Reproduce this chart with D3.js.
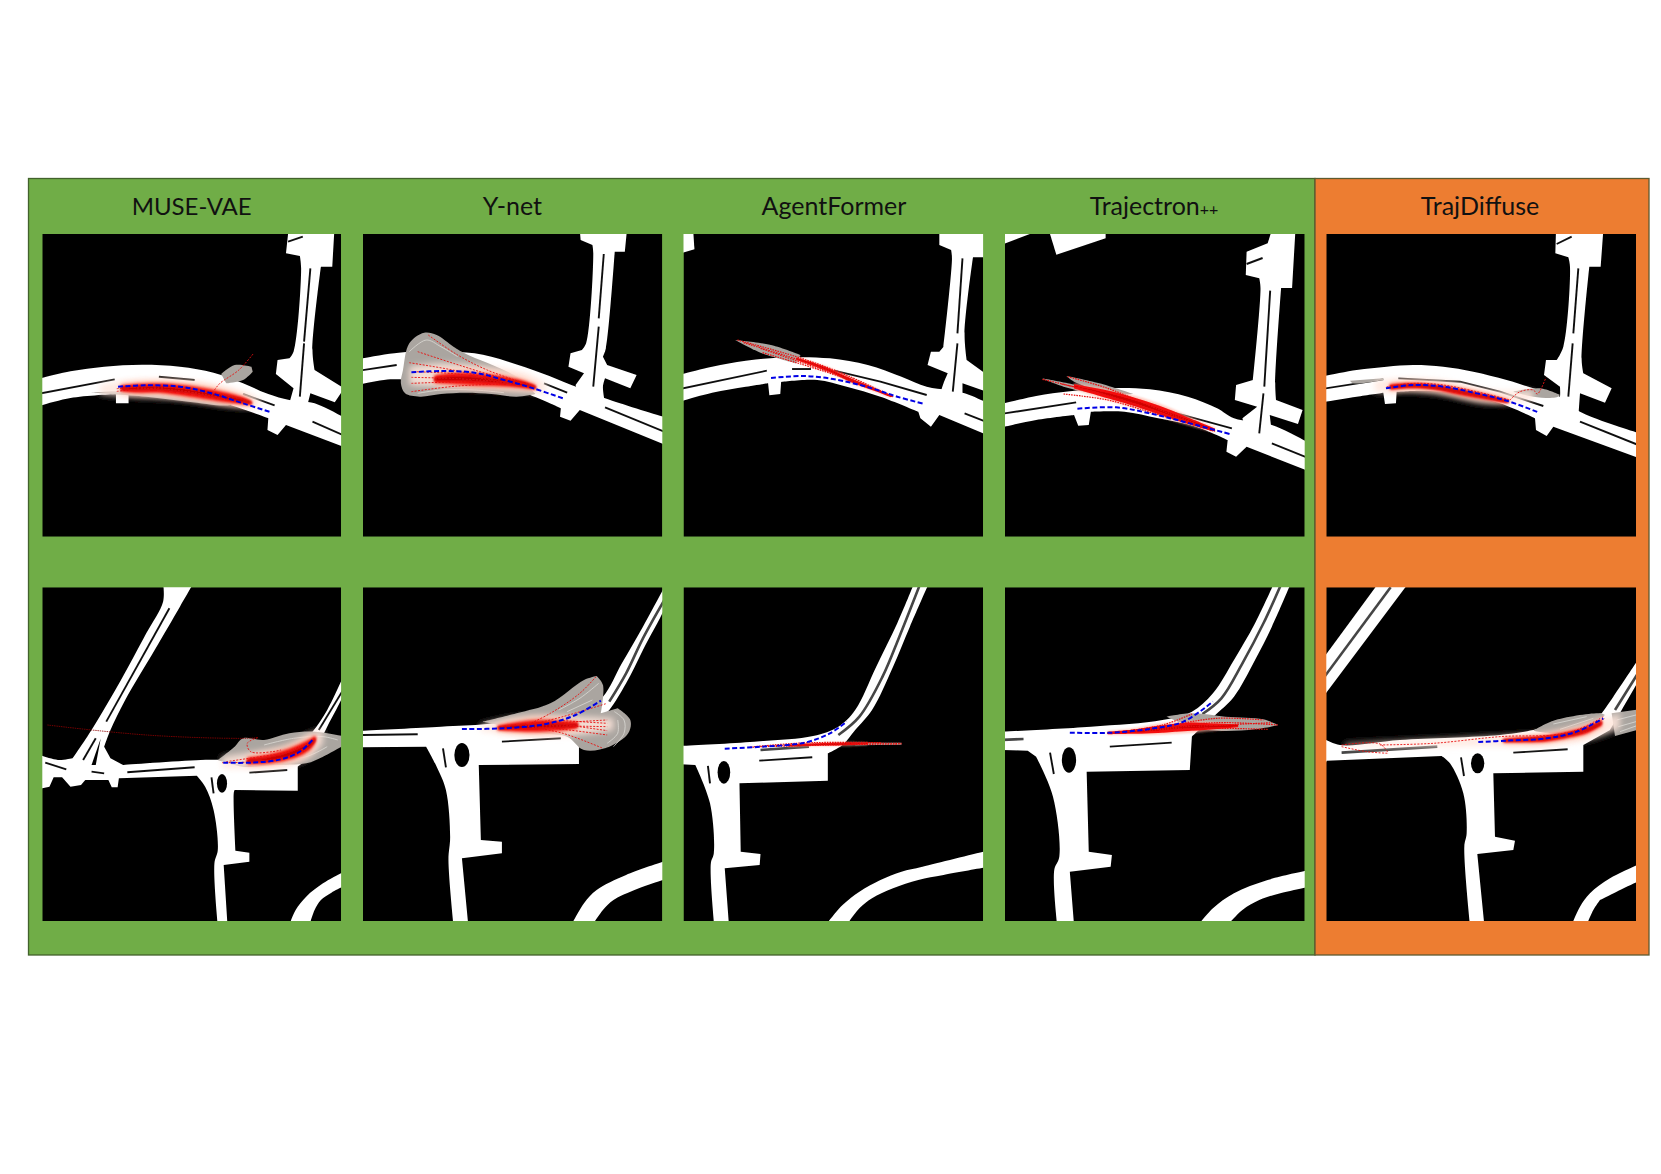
<!DOCTYPE html>
<html>
<head>
<meta charset="utf-8">
<script src="https://cdn.jsdelivr.net/npm/d3@7"></script>
<style>
  html, body { margin: 0; background: #fff; }
  svg { display: block; }
  text { font-family: Lato, "Open Sans", sans-serif; fill: #111; }
</style>
</head>
<body>
<div id="chart"></div>
<script>
const titles = ['MUSE-VAE', 'Y-net', 'AgentFormer', 'Trajectron', 'TrajDiffuse'];
const titleSize = [24, 25, 25, 25, 25];

// map data, in crop coordinates of each panel
const p1Roads = [
  [[40,628],[120,604],[200,590],[290,584],[380,590],[460,608],[530,640],[590,672],[640,690],[700,700],[780,750],[780,836],[632,765],[612,795],[588,780],[590,745],[500,705],[400,672],[300,665],[258,668],[258,700],[228,700],[228,672],[120,684],[40,710]],
  [[638,180],[747,180],[742,290],[715,290],[695,540],[700,600],[770,655],[748,697],[690,670],[680,720],[640,700],[650,655],[608,612],[612,570],[640,565],[650,545],[668,295],[665,258],[632,250]]
];
const p1Lanes = [
  [[40,672],[225,628]], [[330,620],[415,630]], [[530,672],[605,706]], [[695,755],[780,802]],
  [[690,295],[675,515]], [[675,520],[665,680]], [[637,215],[672,200]]
];
const p1Gray = [
  [[478,612],[510,585],[550,590],[553,605],[530,630],[490,640]],
  [[170,668],[300,680],[400,695],[500,705],[520,690],[300,662]]
];
const p1Contours = [];
const p1Heat = [[240,645,666],[280,640,670],[330,638,670],[400,645,682],[470,660,695],[530,680,704],[550,692,706]];
const p1Halo = [[190,645,672],[240,635,678],[400,635,690],[500,655,708],[570,685,715]];
const p1Preds = [
  [[230,664],[300,656],[380,662],[450,676],[510,692]],
  [[230,656],[300,650],[380,655],[450,670],[500,684]],
  [[462,660],[475,640],[520,600],[555,550]]
];
const p1Truth = [[233,650],[300,646],[380,650],[450,668],[530,700],[595,726]];

const p2Roads = [
  [[800,568],[900,548],[1000,545],[1080,550],[1160,575],[1240,610],[1310,645],[1390,685],[1540,745],[1540,828],[1330,720],[1308,752],[1283,740],[1285,715],[1200,670],[1100,640],[1000,630],[955,630],[955,660],[925,660],[925,630],[880,628],[800,645]],
  [[1330,180],[1442,180],[1437,245],[1413,245],[1392,535],[1385,560],[1395,585],[1465,615],[1450,655],[1390,625],[1385,650],[1390,700],[1330,700],[1320,645],[1340,610],[1303,590],[1308,550],[1335,540],[1345,520],[1362,250],[1360,225],[1332,210]]
];
const p2Lanes = [
  [[800,603],[895,585]], [[1245,640],[1300,668]], [[1390,712],[1540,790]],
  [[1387,252],[1375,445]], [[1375,470],[1362,650]]
];
const p2Gray = [
  [[905,640],[915,670],[950,680],[1000,672],[1060,668],[1120,672],[1180,680],[1225,672],[1180,620],[1060,552],[1030,530],[990,495],[960,488],[925,520],[910,600]]
];
const p2Contours = [
  [[925,545],[965,510],[1000,530],[1040,560]], [[945,670],[1000,660],[1080,660],[1150,668]]
];
const p2Heat = [[985,615,640],[1040,606,645],[1110,610,650],[1160,620,652],[1200,632,656],[1225,645,660]];
const p2Halo = [[925,590,645],[1000,580,652],[1100,588,655],[1200,610,664],[1250,640,672]];
const p2Preds = [
  [[970,495],[1040,555],[1110,600],[1200,640]], [[945,545],[1030,580],[1120,615],[1200,640]],
  [[925,578],[1020,598],[1110,622],[1200,640]], [[935,605],[1040,612],[1120,630],[1200,640]],
  [[930,622],[1040,626],[1200,640]], [[930,640],[1040,636],[1200,640]], [[930,665],[1040,648],[1200,640]]
];
const p2Truth = [[930,607],[1000,603],[1080,608],[1150,630],[1220,655],[1290,685]];

const p3Roads = [
  [[20,615],[100,590],[180,572],[280,562],[380,565],[470,585],[550,620],[610,650],[660,660],[700,670],[760,702],[760,798],[640,735],[620,770],[595,745],[590,725],[500,680],[420,650],[350,630],[264,636],[262,672],[236,676],[233,640],[180,650],[100,668],[20,696]],
  [[640,180],[760,180],[760,262],[720,262],[700,490],[705,570],[760,620],[760,668],[695,640],[695,700],[640,680],[650,640],[660,610],[612,585],[620,545],[640,545],[650,530],[670,265],[668,240],[640,225]],
  [[20,180],[55,180],[58,238],[20,252]]
];
const p3Lanes = [
  [[20,658],[230,602]], [[290,597],[335,597]], [[390,602],[500,635],[610,675]], [[700,730],[760,760]],
  [[695,265],[683,490]], [[683,520],[672,665]]
];
const p3Gray = [
  [[155,510],[240,525],[310,555],[300,580],[215,548]]
];
const p3Contours = [];
const p3Heat = [[300,562,570],[370,590,602],[430,625,637],[490,656,665],[525,676,682]];
const p3Preds = [
  [[160,510],[300,560],[400,605],[530,680]], [[175,518],[300,567],[400,610],[530,680]],
  [[215,535],[300,572],[400,615],[530,680]], [[220,548],[300,578],[400,618],[530,680]]
];
const p3Truth = [[240,624],[320,618],[400,630],[480,655],[540,680],[605,702]];

const p4Roads = [
  [[785,703],[870,678],[950,664],[1050,654],[1140,658],[1230,680],[1300,715],[1340,745],[1430,765],[1520,820],[1520,905],[1370,830],[1345,860],[1322,845],[1325,810],[1250,770],[1160,745],[1080,725],[1000,725],[995,765],[970,767],[960,735],[870,750],[785,773]],
  [[1430,180],[1486,180],[1478,354],[1452,354],[1438,640],[1440,690],[1503,720],[1492,762],[1425,735],[1430,790],[1370,790],[1360,745],[1395,710],[1342,690],[1345,645],[1385,630],[1403,354],[1400,325],[1368,315],[1370,245],[1420,220]],
  [[785,180],[880,180],[785,226]],
  [[900,180],[1035,180],[1035,205],[918,254]]
];
const p4Lanes = [
  [[785,732],[965,697]], [[1145,710],[1335,775]], [[1430,820],[1520,866]],
  [[1426,362],[1412,650]], [[1410,670],[1400,790]], [[1370,282],[1408,264]]
];
const p4Gray = [
  [[883,625],[945,640],[1050,670],[1000,668],[935,650]],
  [[942,618],[1020,640],[1100,672],[1050,672],[960,635]]
];
const p4Contours = [];
const p4Heat = [[960,642,656],[1040,660,686],[1110,684,712],[1180,714,742],[1240,746,766],[1295,775,786]];
const p4Preds = [
  [[885,628],[1020,670],[1150,725],[1290,782]], [[945,620],[1040,655],[1150,712],[1290,782]],
  [[935,672],[1040,690],[1150,730],[1290,782]], [[930,642],[1040,676],[1150,722],[1290,782]]
];
const p4Truth = [[968,716],[1060,712],[1140,730],[1220,755],[1330,792]];

const p5Roads = [
  [[65,620],[170,600],[260,590],[340,585],[430,590],[520,605],[620,630],[700,655],[780,680],[840,725],[1020,790],[1020,865],[760,770],[740,798],[708,780],[705,745],[600,700],[480,672],[380,662],[290,665],[288,700],[255,702],[250,668],[170,680],[65,697]],
  [[768,180],[910,180],[902,290],[868,290],[845,570],[850,610],[935,655],[915,698],[840,670],[835,740],[770,720],[780,680],[780,650],[732,615],[738,570],[770,570],[790,530],[810,290],[805,262],[766,250]]
];
const p5Lanes = [
  [[65,657],[250,628]], [[295,625],[480,635],[600,665],[730,708]], [[840,755],[1020,827]],
  [[835,295],[820,490]], [[818,520],[805,680]], [[770,222],[815,200]]
];
const p5Gray = [
  [[150,632],[250,625],[250,630],[160,640]],
  [[640,665],[720,655],[780,675],[770,682],[700,680]]
];
const p5Contours = [];
const p5Heat = [[270,642,660],[330,638,656],[400,642,660],[480,655,676],[560,672,690],[625,690,700]];
const p5Halo = [[225,632,668],[330,628,664],[430,632,674],[560,660,700],[700,662,690]];
const p5Preds = [
  [[260,650],[340,640],[430,645],[530,665],[630,690]],
  [[630,690],[660,665],[700,660],[712,672],[738,622]]
];
const p5Truth = [[258,655],[340,645],[430,650],[530,670],[620,692],[715,727]];

const p6Roads = [
  [[340,40],[412,40],[380,110],[320,240],[250,390],[215,480],[200,530],[215,565],[245,585],[430,570],[560,568],[650,540],[695,485],[730,420],[775,300],[775,350],[730,470],[695,550],[660,590],[660,662],[510,660],[508,668],[512,842],[545,848],[545,875],[484,885],[493,1065],[470,1065],[462,880],[470,840],[460,720],[440,650],[420,617],[235,625],[232,652],[218,652],[210,630],[155,630],[145,645],[120,650],[100,622],[80,622],[70,650],[40,658],[40,552],[90,570],[125,565],[170,480],[240,330],[300,190],[340,95]],
  [[640,1065],[655,1020],[680,980],[720,940],[775,902],[775,945],[740,968],[715,990],[700,1020],[688,1065]]
];
const p6Holes = [[[170,585],[192,505],[180,585]]];
const p6Ovals = [[480,640,12,28]];
const p6Lanes = [
  [[355,115],[205,455]], [[180,505],[150,570]], [[60,578],[110,598]], [[170,605],[200,610]],
  [[255,607],[415,592]], [[545,608],[635,600]], [[775,345],[710,480]], [[455,622],[460,670]]
];
const p6Gray = [
  [[470,570],[510,530],[530,505],[580,510],[640,490],[700,485],[775,500],[775,522],[720,560],[680,580],[600,585],[530,590]]
];
const p6Contours = [
  [[580,525],[650,505],[720,500],[755,510]], [[600,570],[680,560],[730,530]]
];
const p6Heat = [[540,562,584],[590,552,582],[630,538,574],[665,520,560],[690,505,540],[702,495,518]];
const p6Halo = [[480,560,595],[560,545,595],[640,525,585],[690,490,560],[720,480,520]];
const p6Preds = [
  [[480,578],[560,575],[640,560],[690,520]],
  [[565,503],[540,520],[548,545],[600,545],[620,540]],
  [[490,575],[570,560],[640,545],[690,515]]
];
const p6Stray = [[65,465],[170,480],[300,495],[430,503],[540,505],[565,503]];
const p6Truth = [[483,578],[550,578],[620,568],[665,545],[695,510]];

const p7Roads = [
  [[800,483],[1000,470],[1110,462],[1240,440],[1330,430],[1385,380],[1430,280],[1480,170],[1540,30],[1540,85],[1480,240],[1440,340],[1400,420],[1370,455],[1328,510],[1328,582],[1090,585],[1095,810],[1145,815],[1145,850],[1050,865],[1065,1065],[1030,1065],[1018,870],[1022,800],[1012,660],[990,590],[965,530],[800,532]],
  [[1310,1065],[1340,1000],[1370,960],[1440,915],[1540,870],[1540,925],[1460,960],[1410,990],[1385,1020],[1360,1065]]
];
const p7Ovals = [[1050,555,18,36]];
const p7Lanes = [
  [[815,495],[945,493]], [[1145,515],[1285,505]], [[1005,535],[1012,592]]
];
const p7Thick = [[[1540,70],[1480,205],[1440,310],[1400,395]]];
const p7Gray = [
  [[1340,540],[1400,530],[1445,490],[1450,450],[1420,415],[1380,430],[1385,345],[1370,318],[1340,330],[1260,400],[1180,430],[1100,455],[1240,490],[1300,500]]
];
const p7Contours = [
  [[1410,530],[1435,490],[1435,450],[1412,425]], [[1395,520],[1420,490],[1420,450]],
  [[1375,340],[1330,385],[1280,420]], [[1360,390],[1300,425]]
];
const p7Heat = [[1135,466,482],[1180,455,486],[1230,448,488],[1280,450,484],[1325,455,476]];
const p7Halo = [[1095,464,484],[1180,442,492],[1300,438,498],[1410,445,480]];
const p7Preds = [
  [[1200,468],[1260,430],[1330,370],[1370,318]], [[1200,468],[1290,440],[1395,400]],
  [[1200,468],[1290,458],[1395,450]], [[1200,468],[1290,468],[1395,470]],
  [[1200,468],[1290,478],[1395,495]], [[1200,468],[1290,490],[1385,535]],
  [[1290,452],[1395,460]], [[1290,463],[1395,482]]
];
const p7Truth = [[1050,477],[1150,475],[1250,462],[1320,435],[1380,392]];

const p8Roads = [
  [[20,528],[200,515],[340,498],[400,470],[440,420],[490,290],[540,160],[580,40],[615,40],[570,170],[530,290],[480,420],[440,480],[410,525],[375,550],[375,632],[165,640],[168,845],[215,852],[213,885],[130,895],[140,1065],[105,1065],[97,880],[104,850],[95,700],[60,585],[20,582]],
  [[370,1065],[410,1005],[450,965],[500,930],[550,905],[600,890],[760,840],[760,890],[650,915],[590,930],[530,955],[480,985],[450,1015],[420,1065]]
];
const p8Ovals = [[128,607,15,34]];
const p8Lanes = [[[212,572],[338,562]], [[90,588],[95,640]]];
const p8Thick = [[[595,40],[545,200],[505,320],[450,440],[400,495]], [[215,540],[330,530]]];
const p8Gray = [[[440,518],[550,518],[550,524],[440,526]]];
const p8Contours = [];
const p8Heat = [[280,524,530],[370,519,527],[420,518,526],[470,519,524]];
const p8Preds = [
  [[190,532],[300,524],[400,520],[550,520]], [[200,530],[300,520],[400,517],[500,518]],
  [[220,530],[320,527],[420,524],[550,522]]
];
const p8Truth = [[130,536],[220,530],[320,518],[380,490],[420,455]];

const p9Roads = [
  [[785,485],[1000,470],[1170,450],[1240,425],[1290,370],[1340,270],[1390,160],[1435,40],[1475,40],[1430,170],[1390,270],[1340,380],[1300,430],[1240,500],[1235,600],[990,605],[995,845],[1050,855],[1047,890],[950,905],[960,1065],[920,1065],[913,900],[925,860],[910,680],[870,560],[850,542],[785,540]],
  [[1255,1065],[1290,1015],[1340,970],[1420,930],[1520,900],[1520,950],[1450,970],[1400,990],[1360,1020],[1325,1065]]
];
const p9Ovals = [[948,570,17,38]];
const p9Lanes = [[[1045,530],[1192,518]], [[903,548],[912,612]]];
const p9Thick = [[[1453,40],[1410,160],[1360,280],[1310,385],[1265,432]], [[785,510],[840,507]]];
const p9Gray = [
  [[1180,440],[1240,430],[1320,440],[1410,448],[1445,465],[1390,478],[1300,482],[1240,470]]
];
const p9Contours = [];
const p9Heat = [[1040,485,493],[1100,478,492],[1160,466,490],[1240,456,484],[1300,460,478],[1350,463,472]];
const p9Preds = [
  [[1040,490],[1170,470],[1300,445],[1410,450]], [[1040,490],[1170,472],[1300,458],[1445,465]],
  [[1040,490],[1170,478],[1300,475],[1420,478]], [[1040,490],[1170,465],[1240,432]],
  [[1040,490],[1170,474],[1300,466],[1430,458]]
];
const p9Truth = [[950,488],[1050,488],[1150,475],[1220,455],[1290,395]];

const p10Roads = [
  [[70,505],[120,525],[300,510],[600,495],[700,480],[905,430],[940,380],[1020,260],[1020,325],[965,420],[930,480],[850,525],[850,605],[580,610],[585,800],[645,812],[640,840],[532,852],[553,1065],[510,1065],[493,830],[500,790],[490,670],[450,580],[425,558],[80,572],[70,600]],
  [[70,265],[235,40],[325,40],[70,380]],
  [[815,1065],[840,1010],[870,970],[930,925],[1020,882],[1020,932],[950,965],[900,990],[880,1020],[860,1065]]
];
const p10Ovals = [[533,580,20,30]];
const p10Lanes = [[[640,548],[803,538]], [[483,562],[492,618]]];
const p10Thick = [[[125,548],[412,530]], [[1020,300],[945,420]], [[70,325],[272,52]]];
const p10Gray = [
  [[700,482],[760,452],[900,430],[915,435],[850,470],[780,490]],
  [[935,430],[1020,418],[1020,478],[945,498]]
];
const p10Contours = [
  [[760,462],[860,440]], [[780,478],[880,445]], [[950,450],[1008,435]], [[955,470],[1008,455]], [[960,485],[1008,468]]
];
const p10Heat = [[610,506,518],[680,500,518],[740,495,516],[810,482,504],[860,468,492],[905,448,468]];
const p10Halo = [[135,521,531],[300,513,529],[560,500,528],[740,490,526],[880,455,505],[960,430,475]];
const p10Preds = [
  [[125,525],[240,522],[265,550]], [[125,530],[200,545],[265,550]],
  [[240,525],[400,520],[600,500],[800,490],[915,445]],
  [[620,510],[740,498],[830,480],[910,440]]
];
const p10Truth = [[535,516],[620,512],[740,505],[830,485],[910,445]];

const frame = { x: 28.5, y: 178.5, right: 1649, bottom: 955, split: 1315 };
const colX = [[42.3, 341.1], [363, 662.3], [683.5, 983.1], [1005, 1304.7], [1326.3, 1636]];
const rowY = [[234, 536.7], [587.3, 921]];
// the crop each panel's coordinates were read from
const cropX = [[53, 763], [815, 1526], [32, 744], [796, 1508], [79, 1008]];
const cropY = [[192, 1100], [52, 1053]];

const panels = [
  { col: 0, row: 0, roads: p1Roads, lanes: p1Lanes, gray: p1Gray, contours: p1Contours, heat: p1Heat, halo: p1Halo, preds: p1Preds, truth: p1Truth },
  { col: 1, row: 0, roads: p2Roads, lanes: p2Lanes, gray: p2Gray, contours: p2Contours, heat: p2Heat, halo: p2Halo, preds: p2Preds, truth: p2Truth },
  { col: 2, row: 0, roads: p3Roads, lanes: p3Lanes, gray: p3Gray, contours: p3Contours, heat: p3Heat, tight: true, preds: p3Preds, truth: p3Truth },
  { col: 3, row: 0, roads: p4Roads, lanes: p4Lanes, gray: p4Gray, contours: p4Contours, heat: p4Heat, tight: true, preds: p4Preds, truth: p4Truth },
  { col: 4, row: 0, roads: p5Roads, lanes: p5Lanes, gray: p5Gray, contours: p5Contours, heat: p5Heat, halo: p5Halo, preds: p5Preds, truth: p5Truth },
  { col: 0, row: 1, roads: p6Roads, holes: p6Holes, ovals: p6Ovals, lanes: p6Lanes, gray: p6Gray, contours: p6Contours, heat: p6Heat, halo: p6Halo, preds: p6Preds, stray: p6Stray, truth: p6Truth },
  { col: 1, row: 1, roads: p7Roads, ovals: p7Ovals, lanes: p7Lanes, thick: p7Thick, gray: p7Gray, contours: p7Contours, heat: p7Heat, halo: p7Halo, preds: p7Preds, truth: p7Truth },
  { col: 2, row: 1, roads: p8Roads, ovals: p8Ovals, lanes: p8Lanes, thick: p8Thick, gray: p8Gray, contours: p8Contours, heat: p8Heat, tight: true, preds: p8Preds, truth: p8Truth },
  { col: 3, row: 1, roads: p9Roads, ovals: p9Ovals, lanes: p9Lanes, thick: p9Thick, gray: p9Gray, contours: p9Contours, heat: p9Heat, tight: true, preds: p9Preds, truth: p9Truth },
  { col: 4, row: 1, roads: p10Roads, ovals: p10Ovals, lanes: p10Lanes, thick: p10Thick, gray: p10Gray, contours: p10Contours, heat: p10Heat, halo: p10Halo, preds: p10Preds, truth: p10Truth }
];

const svg = d3.select('#chart').append('svg')
  .attr('width', 1661)
  .attr('height', 1174);

const defs = svg.append('defs');
[['blurT', 0.6], ['blurS', 1.1], ['blurM', 1.8], ['blurL', 3]].forEach(([id, dev]) => {
  defs.append('filter').attr('id', id)
    .attr('x', '-30%').attr('y', '-300%').attr('width', '160%').attr('height', '700%')
    .append('feGaussianBlur').attr('stdDeviation', dev);
});
defs.append('filter').attr('id', 'soft')
  .append('feGaussianBlur').attr('stdDeviation', 0.35);

// background boxes
svg.append('rect')
  .attr('x', frame.x).attr('y', frame.y)
  .attr('width', frame.split - frame.x).attr('height', frame.bottom - frame.y)
  .attr('fill', '#70ad47').attr('stroke', '#42622c').attr('stroke-width', 1.3);
svg.append('rect')
  .attr('x', frame.split).attr('y', frame.y)
  .attr('width', frame.right - frame.split).attr('height', frame.bottom - frame.y)
  .attr('fill', '#ed7d31').attr('stroke', '#5f5a30').attr('stroke-width', 1.3);

// titles
const titleX = [191.7, 512.4, 834, 1154, 1480];
svg.selectAll('text.title')
  .data(titles)
  .enter()
  .append('text')
  .attr('class', 'title')
  .attr('x', (d, i) => titleX[i])
  .attr('y', 215)
  .attr('text-anchor', 'middle')
  .attr('font-size', (d, i) => titleSize[i])
  .text(d => d)
  .filter(d => d === 'Trajectron')
  .append('tspan')
  .attr('font-size', 16)
  .text('++');

panels.forEach((p, i) => {
  const x = d3.scaleLinear().domain(cropX[p.col]).range(colX[p.col]);
  const y = d3.scaleLinear().domain(cropY[p.row]).range(rowY[p.row]);
  const line = d3.line().x(d => x(d[0])).y(d => y(d[1]));
  const smooth = d3.line().x(d => x(d[0])).y(d => y(d[1])).curve(d3.curveCatmullRom);
  const blob = d3.line().x(d => x(d[0])).y(d => y(d[1])).curve(d3.curveCatmullRomClosed);

  // closed outline: sharp at real corners, smooth along the edges between them
  const ring = (pts, limit) => {
    const n = pts.length;
    const corners = d3.range(n).filter(k => {
      const a = pts[(k + n - 1) % n], b = pts[k], c = pts[(k + 1) % n];
      const t1 = Math.atan2(y(b[1]) - y(a[1]), x(b[0]) - x(a[0]));
      const t2 = Math.atan2(y(c[1]) - y(b[1]), x(c[0]) - x(b[0]));
      let turn = Math.abs(t2 - t1);
      if (turn > Math.PI) turn = 2 * Math.PI - turn;
      return turn > limit;
    });
    if (!corners.length) return blob(pts);
    return corners.map((c, k) => {
      const end = corners[(k + 1) % corners.length];
      const run = [pts[c]];
      for (let j = (c + 1) % n; j !== end; j = (j + 1) % n) run.push(pts[j]);
      run.push(pts[end]);
      return (k ? smooth(run).replace(/^M/, 'L') : smooth(run));
    }).join('') + 'Z';
  };

  defs.append('clipPath').attr('id', 'clip' + i)
    .append('rect')
    .attr('x', colX[p.col][0]).attr('y', rowY[p.row][0])
    .attr('width', colX[p.col][1] - colX[p.col][0])
    .attr('height', rowY[p.row][1] - rowY[p.row][0]);

  const g = svg.append('g')
    .attr('clip-path', `url(#clip${i})`)
    .append('g')
    .attr('filter', 'url(#soft)');

  g.append('rect')
    .attr('x', colX[p.col][0]).attr('y', rowY[p.row][0])
    .attr('width', colX[p.col][1] - colX[p.col][0])
    .attr('height', rowY[p.row][1] - rowY[p.row][0])
    .attr('fill', '#000');

  g.selectAll('path.road').data(p.roads).enter().append('path')
    .attr('class', 'road').attr('d', d => ring(d, 0.5)).attr('fill', '#fff');

  g.selectAll('path.hole').data(p.holes || []).enter().append('path')
    .attr('class', 'hole').attr('d', d => line(d) + 'Z').attr('fill', '#000');

  g.selectAll('ellipse').data(p.ovals || []).enter().append('ellipse')
    .attr('cx', d => x(d[0])).attr('cy', d => y(d[1]))
    .attr('rx', d => x(d[0] + d[2]) - x(d[0]))
    .attr('ry', d => y(d[1] + d[3]) - y(d[1]))
    .attr('fill', '#000');

  g.selectAll('path.lane').data(p.lanes).enter().append('path')
    .attr('class', 'lane').attr('d', line)
    .attr('fill', 'none').attr('stroke', '#111').attr('stroke-width', 1.9);

  g.selectAll('path.thick').data(p.thick || []).enter().append('path')
    .attr('class', 'thick').attr('d', smooth)
    .attr('fill', 'none').attr('stroke', '#444').attr('stroke-width', 2.6);

  g.selectAll('path.gray').data(p.gray).enter().append('path')
    .attr('class', 'gray').attr('d', d => ring(d, 1))
    .attr('fill', '#aaa5a0');

  g.selectAll('path.contour').data(p.contours).enter().append('path')
    .attr('class', 'contour').attr('d', smooth)
    .attr('fill', 'none').attr('stroke', '#dcdad6').attr('stroke-width', 0.8);

  // heat band: [x, top, bottom], widened or narrowed per layer
  const band = k => d3.area()
    .x(d => x(d[0]))
    .y0(d => y((d[1] + d[2]) / 2 - k * (d[2] - d[1]) / 2))
    .y1(d => y((d[1] + d[2]) / 2 + k * (d[2] - d[1]) / 2))
    .curve(d3.curveCatmullRom);

  if (p.halo) {
    g.append('path').datum(p.halo)
      .attr('d', band(1))
      .attr('fill', '#ffe6dc').attr('opacity', 0.85)
      .attr('filter', 'url(#blurL)');
  }
  const layers = p.tight
    ? [[1.3, '#ffb0a0', 'blurS', 0.7], [0.9, '#f40a0a', 'blurT', 1], [0.3, '#d00000', 'blurT', 1]]
    : [[1.35, '#ffc4b0', 'blurL', 0.9], [0.95, '#f5281c', 'blurM', 1], [0.55, '#ee0808', 'blurS', 1], [0.22, '#b80000', 'blurS', 1]];
  layers.forEach(([k, color, blur, alpha]) => {
    g.append('path').datum(p.heat)
      .attr('d', band(k))
      .attr('fill', color).attr('opacity', alpha)
      .attr('filter', `url(#${blur})`);
  });

  g.selectAll('path.pred').data(p.preds).enter().append('path')
    .attr('class', 'pred').attr('d', smooth)
    .attr('fill', 'none').attr('stroke', '#e81010').attr('stroke-width', p.tight ? 1.2 : 0.9)
    .attr('stroke-dasharray', p.tight ? '1.6,1' : '2,1.4');

  if (p.stray) {
    g.append('path').datum(p.stray)
      .attr('d', smooth)
      .attr('fill', 'none').attr('stroke', '#8f0000').attr('stroke-width', 0.8)
      .attr('stroke-dasharray', '1.5,0.8');
  }

  g.append('path').datum(p.truth)
    .attr('d', smooth)
    .attr('fill', 'none').attr('stroke', '#0000e6').attr('stroke-width', 2)
    .attr('stroke-dasharray', '5,2.5');
});
</script>
</body>
</html>
